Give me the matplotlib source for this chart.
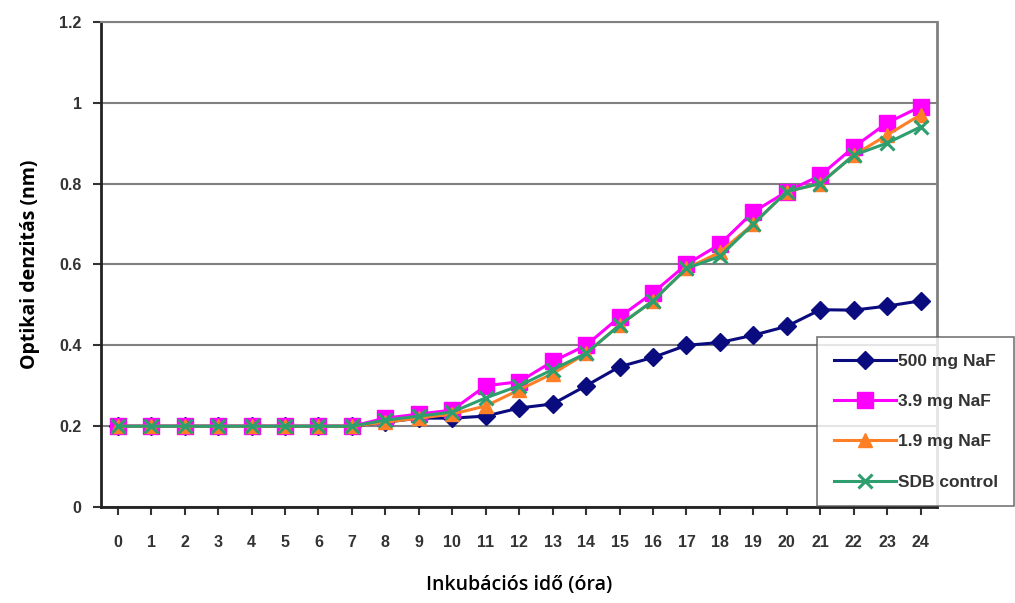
import matplotlib.pyplot as plt

# adatok
ora = list(range(25))
naf_500 = [0.2, 0.2, 0.2, 0.2, 0.2, 0.2, 0.2, 0.2, 0.21, 0.22, 0.22, 0.225, 0.245,
           0.255, 0.30, 0.347, 0.37, 0.40, 0.407, 0.425, 0.447, 0.488, 0.487, 0.497, 0.51]
naf_39 = [0.2, 0.2, 0.2, 0.2, 0.2, 0.2, 0.2, 0.2, 0.22, 0.23, 0.24, 0.30, 0.31,
          0.36, 0.40, 0.47, 0.53, 0.60, 0.65, 0.73, 0.78, 0.82, 0.89, 0.95, 0.99]
naf_19 = [0.2, 0.2, 0.2, 0.2, 0.2, 0.2, 0.2, 0.2, 0.21, 0.22, 0.23, 0.25, 0.29,
          0.33, 0.38, 0.45, 0.51, 0.59, 0.63, 0.70, 0.78, 0.80, 0.87, 0.92, 0.97]
sdb = [0.2, 0.2, 0.2, 0.2, 0.2, 0.2, 0.2, 0.2, 0.215, 0.225, 0.235, 0.27, 0.30,
       0.34, 0.38, 0.45, 0.51, 0.59, 0.62, 0.70, 0.78, 0.80, 0.87, 0.90, 0.94]

nevek = ["500 mg NaF", "3.9 mg NaF", "1.9 mg NaF", "SDB control"]
szinek = ["#0b0b80", "#ff00ff", "#ff7f27", "#2e9e6e"]
jelek = ["D", "s", "^", "x"]

fig = plt.figure(figsize=(10.15, 6.03), dpi=100)
ax = fig.add_axes([0.0995, 0.159, 0.824, 0.805])

sorozatok = [naf_500, naf_39, naf_19, sdb]
meretek = [9.5, 12, 9.5, 9.5]
for adat, nev, szin, jel, m in zip(sorozatok, nevek, szinek, jelek, meretek):
    ax.plot(ora, adat, color=szin, marker=jel, markersize=m, linewidth=2.2,
            markeredgewidth=2.2 if jel == "x" else 1, label=nev, zorder=3)

ax.set_xlim(-0.5, 24.5)
ax.set_ylim(0, 1.2)
ax.set_xticks(ora)
ax.set_yticks([0, 0.2, 0.4, 0.6, 0.8, 1, 1.2])
ax.set_yticklabels(["0", "0.2", "0.4", "0.6", "0.8", "1", "1.2"])
ax.grid(axis="y", color="#808080", linewidth=1.5)
ax.set_axisbelow(True)

for t in ax.get_xticklabels() + ax.get_yticklabels():
    t.set_fontfamily("Liberation Sans")
    t.set_fontweight("bold")
    t.set_fontsize(11.5)
    t.set_color("#333333")
ax.tick_params(axis="both", direction="out", length=6, width=1.5, color="#333333")
ax.tick_params(axis="x", pad=14)
ax.tick_params(axis="y", pad=8)

ax.spines["left"].set_color("#222222")
ax.spines["left"].set_linewidth(2)
ax.spines["bottom"].set_color("#222222")
ax.spines["bottom"].set_linewidth(2)
ax.spines["right"].set_color("#808080")
ax.spines["right"].set_linewidth(2)
ax.spines["top"].set_color("#808080")
ax.spines["top"].set_linewidth(1.5)

ax.set_xlabel("Inkubációs idő (óra)", fontsize=14, fontfamily="Open Sans",
              fontweight="semibold", labelpad=18)
ax.set_ylabel("Optikai denzitás (nm)", fontsize=14, fontfamily="Open Sans",
              fontweight="bold", labelpad=14)

leg = ax.legend(loc="upper left", bbox_to_anchor=(0.805, 0.441),
                bbox_transform=fig.transFigure, frameon=True, fancybox=False,
                prop={"family": "Liberation Sans", "weight": "bold", "size": 12.5},
                handlelength=3.6, handletextpad=0.1, labelspacing=1.45,
                borderpad=0.95, borderaxespad=0)
leg.get_frame().set_edgecolor("#555555")
leg.get_frame().set_linewidth(1.2)
for t in leg.get_texts():
    t.set_color("#333333")

fig.savefig("out.png", dpi=100)
